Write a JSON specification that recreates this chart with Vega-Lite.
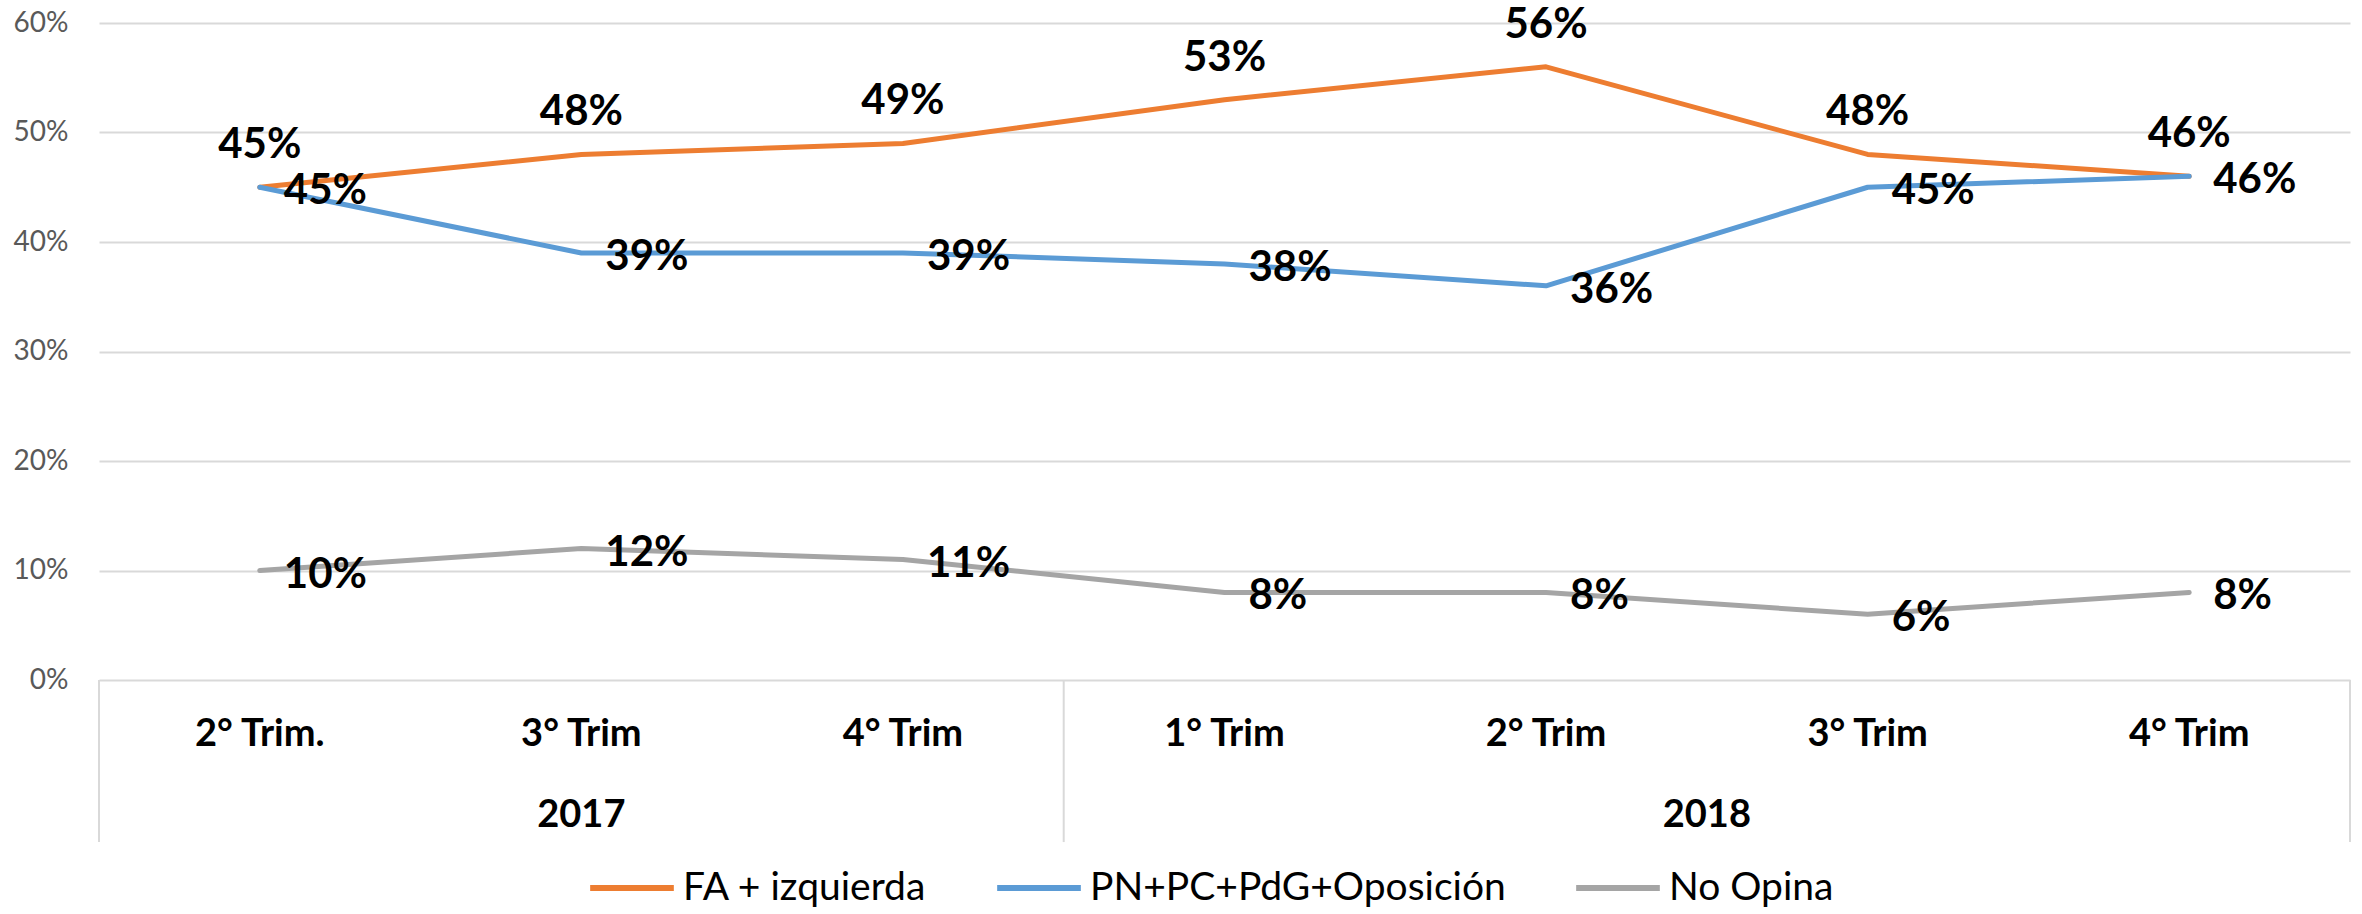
{
  "$schema": "https://vega.github.io/schema/vega-lite/v6.json",
  "autosize": {"type": "none"},
  "width": 2251,
  "height": 657,
  "padding": {"left": 99, "top": 23, "right": 12, "bottom": 234},
  "background": "white",
  "datasets": {
    "main": [
      {"i": 1, "year": "2017", "cat": "2° Trim.", "series": "FA + izquierda", "value": 0.45},
      {"i": 2, "year": "2017", "cat": "3° Trim", "series": "FA + izquierda", "value": 0.48},
      {"i": 3, "year": "2017", "cat": "4° Trim", "series": "FA + izquierda", "value": 0.49},
      {"i": 4, "year": "2018", "cat": "1° Trim", "series": "FA + izquierda", "value": 0.53},
      {"i": 5, "year": "2018", "cat": "2° Trim", "series": "FA + izquierda", "value": 0.56},
      {"i": 6, "year": "2018", "cat": "3° Trim", "series": "FA + izquierda", "value": 0.48},
      {"i": 7, "year": "2018", "cat": "4° Trim", "series": "FA + izquierda", "value": 0.46},
      {"i": 1, "year": "2017", "cat": "2° Trim.", "series": "PN+PC+PdG+Oposición", "value": 0.45},
      {"i": 2, "year": "2017", "cat": "3° Trim", "series": "PN+PC+PdG+Oposición", "value": 0.39},
      {"i": 3, "year": "2017", "cat": "4° Trim", "series": "PN+PC+PdG+Oposición", "value": 0.39},
      {"i": 4, "year": "2018", "cat": "1° Trim", "series": "PN+PC+PdG+Oposición", "value": 0.38},
      {"i": 5, "year": "2018", "cat": "2° Trim", "series": "PN+PC+PdG+Oposición", "value": 0.36},
      {"i": 6, "year": "2018", "cat": "3° Trim", "series": "PN+PC+PdG+Oposición", "value": 0.45},
      {"i": 7, "year": "2018", "cat": "4° Trim", "series": "PN+PC+PdG+Oposición", "value": 0.46},
      {"i": 1, "year": "2017", "cat": "2° Trim.", "series": "No Opina", "value": 0.10},
      {"i": 2, "year": "2017", "cat": "3° Trim", "series": "No Opina", "value": 0.12},
      {"i": 3, "year": "2017", "cat": "4° Trim", "series": "No Opina", "value": 0.11},
      {"i": 4, "year": "2018", "cat": "1° Trim", "series": "No Opina", "value": 0.08},
      {"i": 5, "year": "2018", "cat": "2° Trim", "series": "No Opina", "value": 0.08},
      {"i": 6, "year": "2018", "cat": "3° Trim", "series": "No Opina", "value": 0.06},
      {"i": 7, "year": "2018", "cat": "4° Trim", "series": "No Opina", "value": 0.08}
    ],
    "bounds": [{"b": 0.5}, {"b": 3.5}, {"b": 7.5}]
  },
  "data": {"name": "main"},
  "config": {
    "view": {"stroke": null},
    "font": "Lato"
  },
  "encoding": {
    "x": {
      "field": "i",
      "type": "quantitative",
      "scale": {"domain": [0.5, 7.5], "nice": false, "zero": false},
      "axis": null
    }
  },
  "layer": [
    {
      "mark": {"type": "rule", "color": "#d9d9d9", "strokeWidth": 2},
      "data": {"name": "bounds"},
      "encoding": {
        "x": {"field": "b", "type": "quantitative"},
        "y": {"datum": 0, "type": "quantitative"},
        "y2": {"datum": -0.148}
      }
    },
    {
      "mark": {"type": "line", "strokeWidth": 5, "strokeCap": "round", "strokeJoin": "round"},
      "encoding": {
        "y": {
          "field": "value",
          "type": "quantitative",
          "scale": {"domain": [0, 0.6], "nice": false},
          "axis": {
            "values": [0, 0.1, 0.2, 0.3, 0.4, 0.5, 0.6],
            "format": ".0%",
            "title": null,
            "domain": false,
            "ticks": false,
            "grid": true,
            "gridColor": "#d9d9d9",
            "gridWidth": 2,
            "labelFont": "Lato",
            "labelFontSize": 28,
            "labelColor": "#595959",
            "labelPadding": 31
          }
        },
        "color": {
          "field": "series",
          "type": "nominal",
          "scale": {
            "domain": ["FA + izquierda", "PN+PC+PdG+Oposición", "No Opina"],
            "range": ["#ED7D31", "#5B9BD5", "#A5A5A5"]
          },
          "legend": {
            "orient": "none",
            "legendX": 488,
            "legendY": 820,
            "direction": "horizontal",
            "title": null,
            "symbolType": "stroke",
            "symbolSize": 7000,
            "symbolStrokeWidth": 6,
            "labelFont": "Lato",
            "labelFontSize": 39,
            "labelColor": "black",
            "labelOffset": 6,
            "labelLimit": 0,
            "columnPadding": 58
          }
        }
      }
    },
    {
      "transform": [{"filter": "datum.series === 'FA + izquierda'"}],
      "mark": {"type": "text", "align": "center", "baseline": "middle", "dy": -42, "fontSize": 42, "fontWeight": "bold", "font": "Lato", "color": "black"},
      "encoding": {
        "y": {"field": "value", "type": "quantitative"},
        "text": {"field": "value", "type": "quantitative", "format": ".0%"}
      }
    },
    {
      "transform": [{"filter": "datum.series !== 'FA + izquierda'"}],
      "mark": {"type": "text", "align": "left", "baseline": "middle", "dx": 24, "dy": 4, "fontSize": 42, "fontWeight": "bold", "font": "Lato", "color": "black"},
      "encoding": {
        "y": {"field": "value", "type": "quantitative"},
        "text": {"field": "value", "type": "quantitative", "format": ".0%"}
      }
    },
    {
      "transform": [{"filter": "datum.series === 'No Opina'"}],
      "mark": {"type": "text", "align": "center", "baseline": "middle", "fontSize": 38, "fontWeight": "bold", "font": "Lato", "color": "black"},
      "encoding": {
        "y": {"datum": -0.05, "type": "quantitative"},
        "text": {"field": "cat", "type": "nominal"}
      }
    },
    {
      "transform": [
        {"filter": "datum.series === 'No Opina'"},
        {"aggregate": [{"op": "mean", "field": "i", "as": "i"}], "groupby": ["year"]}
      ],
      "mark": {"type": "text", "align": "center", "baseline": "middle", "fontSize": 38, "fontWeight": "bold", "font": "Lato", "color": "black"},
      "encoding": {
        "x": {"field": "i", "type": "quantitative"},
        "y": {"datum": -0.124, "type": "quantitative"},
        "text": {"field": "year", "type": "nominal"}
      }
    }
  ]
}
